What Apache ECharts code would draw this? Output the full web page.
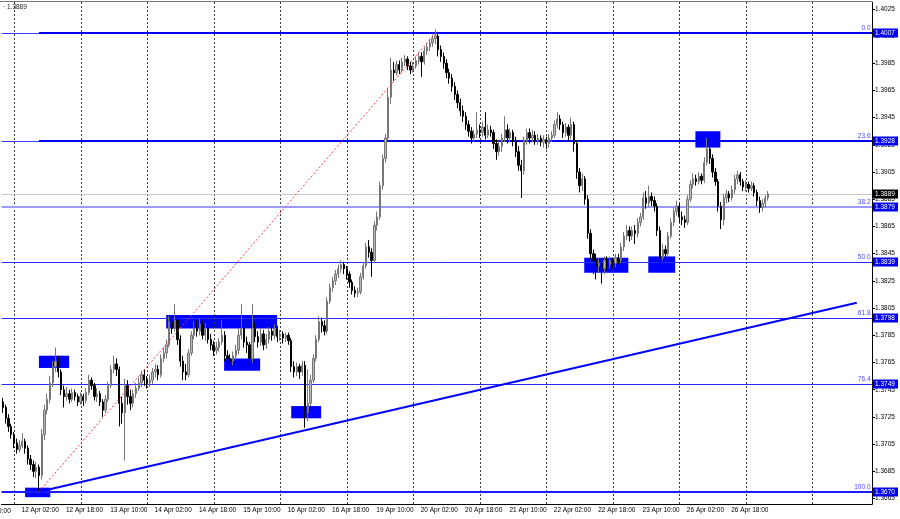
<!DOCTYPE html>
<html><head><meta charset="utf-8">
<script src="https://cdn.jsdelivr.net/npm/echarts@6/dist/echarts.min.js"></script>
<style>html,body{margin:0;padding:0;background:#fff}#c{width:900px;height:519px}</style>
</head><body><div id="c"></div><script>
// ---------- DATA (GBPUSD H1) ----------
const firstOpen = 1.3736;
const closes = [
1.3732,1.3724,1.3718,1.3712,1.3706,1.3701,1.3704,1.3707,1.3702,1.3694,
1.3690,1.3685,1.3688,1.3682,1.3712,1.3730,1.3738,1.3750,1.3762,1.3766,
1.3758,1.3745,1.3740,1.3742,1.3738,1.3743,1.3740,1.3736,1.3740,1.3737,
1.3743,1.3752,1.3748,1.3740,1.3742,1.3736,1.3730,1.3738,1.3748,1.3760,
1.3764,1.3760,1.3735,1.3728,1.3748,1.3740,1.3735,1.3742,1.3746,1.3750,
1.3756,1.3752,1.3750,1.3752,1.3758,1.3760,1.3756,1.3768,1.3772,1.3778,
1.3795,1.3790,1.3796,1.3782,1.3766,1.3758,1.3756,1.3772,1.3785,1.3790,
1.3788,1.3793,1.3785,1.3790,1.3782,1.3778,1.3774,1.3776,1.3780,1.3785,
1.3770,1.3768,1.3766,1.3770,1.3774,1.3785,1.3790,1.3780,1.3778,1.3768,
1.3790,1.3784,1.3780,1.3786,1.3778,1.3782,1.3788,1.3785,1.3790,1.3784,
1.3786,1.3783,1.3785,1.3781,1.3762,1.3758,1.3762,1.3758,1.3763,1.3728,
1.3735,1.3752,1.3768,1.3782,1.3795,1.3792,1.3788,1.3810,1.3820,1.3825,
1.3830,1.3834,1.3837,1.3834,1.3830,1.3824,1.3818,1.3816,1.3817,1.3828,
1.3836,1.3850,1.3846,1.3840,1.3866,1.3872,1.3895,1.3915,1.3930,1.3960,
1.3980,1.3978,1.3984,1.3980,1.3986,1.3988,1.3983,1.3980,1.3983,1.3987,
1.3990,1.3986,1.3994,1.3997,1.4000,1.4003,1.4005,1.3995,1.3990,1.3985,
1.3978,1.3974,1.3968,1.3962,1.3956,1.3950,1.3946,1.3940,1.3935,1.3930,
1.3933,1.3936,1.3934,1.3938,1.3932,1.3936,1.3934,1.3926,1.3920,1.3924,
1.3930,1.3936,1.3930,1.3934,1.3928,1.3920,1.3910,1.3906,1.3928,1.3934,
1.3930,1.3932,1.3928,1.3930,1.3927,1.3929,1.3926,1.3930,1.3932,1.3940,
1.3944,1.3940,1.3934,1.3938,1.3932,1.3940,1.3926,1.3905,1.3895,1.3900,
1.3885,1.3860,1.3845,1.3840,1.3836,1.3838,1.3834,1.3840,1.3837,1.3840,
1.3838,1.3842,1.3840,1.3850,1.3858,1.3862,1.3858,1.3862,1.3860,1.3868,
1.3872,1.3886,1.3882,1.3887,1.3884,1.3880,1.3862,1.3842,1.3848,1.3845,
1.3858,1.3868,1.3876,1.3880,1.3872,1.3870,1.3868,1.3885,1.3896,1.3900,
1.3898,1.3902,1.3899,1.3912,1.3922,1.3915,1.3905,1.3898,1.3880,1.3870,
1.3886,1.3889,1.3886,1.3892,1.3900,1.3903,1.3898,1.3894,1.3896,1.3893,
1.3895,1.3890,1.3884,1.3879,1.3882,1.3886,1.3889];
const highs = [
1.3739,1.3734,1.3727,1.3720,1.3714,1.3709,1.3708,1.3713,1.3709,1.3704,
1.3697,1.3693,1.3692,1.3690,1.3716,1.3734,1.3742,1.3755,1.3766,1.3776,
1.3770,1.3760,1.3748,1.3747,1.3745,1.3746,1.3745,1.3742,1.3743,1.3742,
1.3746,1.3756,1.3754,1.3750,1.3746,1.3744,1.3738,1.3741,1.3751,1.3763,
1.3770,1.3768,1.3762,1.3740,1.3753,1.3752,1.3745,1.3745,1.3750,1.3754,
1.3759,1.3760,1.3755,1.3756,1.3761,1.3764,1.3763,1.3771,1.3776,1.3782,
1.3799,1.3800,1.3808,1.3798,1.3785,1.3770,1.3764,1.3775,1.3788,1.3795,
1.3796,1.3797,1.3796,1.3794,1.3792,1.3786,1.3781,1.3780,1.3783,1.3796,
1.3788,1.3774,1.3771,1.3773,1.3778,1.3790,1.3808,1.3793,1.3784,1.3780,
1.3808,1.3794,1.3788,1.3790,1.3789,1.3786,1.3791,1.3792,1.3793,1.3792,
1.3789,1.3788,1.3787,1.3787,1.3783,1.3766,1.3765,1.3764,1.3766,1.3766,
1.3760,1.3756,1.3771,1.3785,1.3799,1.3798,1.3796,1.3813,1.3823,1.3828,
1.3833,1.3837,1.3840,1.3839,1.3836,1.3832,1.3826,1.3821,1.3820,1.3831,
1.3839,1.3853,1.3855,1.3849,1.3869,1.3876,1.3898,1.3918,1.3933,1.3967,
1.3989,1.3986,1.3987,1.3987,1.3989,1.3991,1.3990,1.3986,1.3986,1.3990,
1.3993,1.3993,1.3997,1.4000,1.4003,1.4006,1.4010,1.4008,1.3998,1.3993,
1.3988,1.3981,1.3977,1.3971,1.3965,1.3959,1.3954,1.3949,1.3943,1.3938,
1.3936,1.3949,1.3940,1.3942,1.3949,1.3940,1.3939,1.3936,1.3929,1.3928,
1.3933,1.3946,1.3940,1.3937,1.3936,1.3931,1.3924,1.3914,1.3931,1.3937,
1.3937,1.3936,1.3935,1.3933,1.3932,1.3932,1.3931,1.3933,1.3935,1.3943,
1.3949,1.3947,1.3942,1.3941,1.3940,1.3945,1.3942,1.3928,1.3908,1.3904,
1.3902,1.3888,1.3863,1.3848,1.3845,1.3842,1.3841,1.3843,1.3843,1.3843,
1.3842,1.3845,1.3845,1.3853,1.3861,1.3866,1.3865,1.3865,1.3866,1.3871,
1.3875,1.3890,1.3891,1.3895,1.3890,1.3887,1.3882,1.3865,1.3852,1.3851,
1.3861,1.3871,1.3879,1.3884,1.3882,1.3876,1.3873,1.3888,1.3899,1.3904,
1.3903,1.3905,1.3904,1.3916,1.3930,1.3928,1.3918,1.3908,1.3900,1.3883,
1.3889,1.3892,1.3891,1.3895,1.3903,1.3906,1.3905,1.3900,1.3899,1.3898,
1.3898,1.3897,1.3892,1.3887,1.3885,1.3888,1.3891];
const lows = [
1.3728,1.3720,1.3714,1.3709,1.3702,1.3698,1.3699,1.3702,1.3698,1.3690,
1.3686,1.3681,1.3680,1.3670,1.3679,1.3708,1.3727,1.3735,1.3747,1.3758,
1.3754,1.3741,1.3732,1.3737,1.3735,1.3736,1.3737,1.3733,1.3734,1.3733,
1.3735,1.3741,1.3745,1.3737,1.3736,1.3733,1.3725,1.3728,1.3736,1.3746,
1.3757,1.3755,1.3718,1.3720,1.3693,1.3734,1.3730,1.3732,1.3739,1.3744,
1.3747,1.3748,1.3746,1.3747,1.3749,1.3754,1.3752,1.3754,1.3765,1.3768,
1.3776,1.3786,1.3788,1.3778,1.3762,1.3752,1.3752,1.3754,1.3770,1.3782,
1.3784,1.3785,1.3782,1.3781,1.3779,1.3774,1.3770,1.3771,1.3773,1.3778,
1.3766,1.3764,1.3762,1.3763,1.3767,1.3771,1.3782,1.3776,1.3772,1.3762,
1.3765,1.3780,1.3776,1.3777,1.3774,1.3775,1.3779,1.3781,1.3782,1.3780,
1.3781,1.3779,1.3780,1.3778,1.3758,1.3754,1.3755,1.3753,1.3755,1.3717,
1.3722,1.3733,1.3750,1.3766,1.3780,1.3787,1.3785,1.3786,1.3808,1.3817,
1.3822,1.3827,1.3831,1.3830,1.3826,1.3820,1.3815,1.3813,1.3813,1.3815,
1.3826,1.3834,1.3842,1.3828,1.3838,1.3862,1.3870,1.3892,1.3912,1.3928,
1.3955,1.3972,1.3976,1.3977,1.3978,1.3983,1.3980,1.3977,1.3978,1.3981,
1.3984,1.3975,1.3984,1.3991,1.3994,1.3997,1.3999,1.3990,1.3986,1.3981,
1.3974,1.3970,1.3964,1.3958,1.3952,1.3946,1.3942,1.3936,1.3931,1.3926,
1.3927,1.3930,1.3930,1.3931,1.3929,1.3930,1.3931,1.3922,1.3914,1.3917,
1.3920,1.3927,1.3926,1.3927,1.3924,1.3916,1.3906,1.3886,1.3903,1.3925,
1.3926,1.3927,1.3925,1.3925,1.3924,1.3923,1.3922,1.3923,1.3927,1.3930,
1.3937,1.3936,1.3930,1.3931,1.3928,1.3929,1.3920,1.3900,1.3890,1.3891,
1.3881,1.3856,1.3841,1.3830,1.3826,1.3831,1.3823,1.3830,1.3833,1.3834,
1.3834,1.3835,1.3837,1.3838,1.3847,1.3855,1.3854,1.3855,1.3852,1.3857,
1.3865,1.3870,1.3878,1.3879,1.3880,1.3876,1.3858,1.3838,1.3840,1.3841,
1.3843,1.3856,1.3865,1.3873,1.3868,1.3866,1.3864,1.3866,1.3883,1.3893,
1.3895,1.3896,1.3896,1.3897,1.3910,1.3911,1.3901,1.3895,1.3876,1.3863,
1.3866,1.3882,1.3883,1.3884,1.3889,1.3896,1.3895,1.3891,1.3891,1.3890,
1.3891,1.3887,1.3880,1.3875,1.3876,1.3879,1.3884];
const totalSlots = 314;                 // bar slots incl. empty right shift
const tickLabels = ['12 Apr 02:00','12 Apr 18:00','13 Apr 10:00','14 Apr 02:00','14 Apr 18:00',
  '15 Apr 10:00','16 Apr 02:00','16 Apr 18:00','19 Apr 10:00','20 Apr 02:00','20 Apr 18:00',
  '21 Apr 10:00','22 Apr 02:00','22 Apr 18:00','23 Apr 10:00','26 Apr 02:00','26 Apr 18:00'];
const tickStart = 6, tickStep = 16;
const hiddenLeftLabel = ['9 Apr 10:00', -10];
const dayStarts = [4,28,52,76,100,124,148,172,196,220,244,268,292];
const yTicks = [1.3665,1.3685,1.3705,1.3725,1.3745,1.3765,1.3785,1.3805,1.3825,1.3845,
  1.3865,1.3885,1.3905,1.3925,1.3945,1.3965,1.3985,1.4005,1.4025];
const yMin = 1.3661, yMax = 1.4030;
const fibLevels = [1.4007,1.3928,1.3879,1.3839,1.3798,1.3749,1.3670];
const fibNames = ['0.0','23.6','38.2','50.0','61.8','76.4','100.0'];
const lastPrice = 1.3889;
// highlighted zones: [fromBar, toBar, priceTop, priceBottom]
const zones = [[8.0,17.1,1.3673,1.3666],[13.0,23.9,1.3770,1.3761],[58.9,98.9,1.3800,1.3790],
  [79.8,92.8,1.3768,1.3759],[104.0,114.8,1.3733,1.3724],[209.7,225.6,1.3842,1.3831],
  [232.8,242.5,1.3843,1.3831],[249.8,258.8,1.3935,1.3923]];
const trendLine = [[13,1.3670],[308,1.3809]];
const fibBase = [[13,1.3670],[156,1.4007]];
const fibAnchor = 13;

// ---------- STYLES ----------
const BLUE = '#0000f0';
const fibStyles = [
  {full:{c:'#3a3aff',w:1}, part:{c:BLUE,w:2}},
  {full:{c:'#3a3aff',w:1}, part:{c:BLUE,w:2}},
  {full:{c:'#9a9aff',w:2}},
  {full:{c:'#2a2aff',w:1}},
  {full:{c:'#2a2aff',w:1}},
  {full:{c:'#2a2aff',w:1}},
  {full:{c:'#1a1aff',w:2}}
];

// ---------- BUILD ----------
const cats = Array.from({length: totalSlots}, (_, i) => String(i));
const candles = closes.map((c, i) => [i === 0 ? firstOpen : closes[i-1], c, lows[i], highs[i]]);
const isTick = i => i >= tickStart && (i - tickStart) % tickStep === 0 && (i - tickStart) / tickStep < tickLabels.length;

const segs = []; // [x0,p0,x1,p1,color,width,dash]
dayStarts.forEach(d => segs.push([d, yMin, d, yMax, '#3a3a3a', 1, [2,2]]));
segs.push([-0.5, lastPrice, totalSlots-0.5, lastPrice, '#c8c8c8', 1, null]);
fibLevels.forEach((p, k) => {
  const s = fibStyles[k];
  segs.push([-0.5, p, totalSlots-0.5, p, s.full.c, s.full.w, null]);
  if (s.part) segs.push([fibAnchor, p, totalSlots-0.5, p, s.part.c, s.part.w, null]);
});

function segRender(params, api) {
  const s = segs[params.dataIndex];
  const a = api.coord([s[0], s[1]]);
  const b = api.coord([s[2], s[3]]);
  const w = s[5];
  const adj = v => (w % 2 === 1 ? Math.round(v) + 0.5 : Math.round(v));
  let x1 = a[0], y1 = a[1], x2 = b[0], y2 = b[1];
  if (s[1] === s[3]) { y1 = y2 = adj(y1); } else if (s[0] === s[2]) { x1 = x2 = adj(x1); }
  return {type:'line', shape:{x1,y1,x2,y2},
    style:{stroke: s[4], lineWidth: w, lineDash: s[6]}};
}
function zoneRender(params, api) {
  const z = zones[params.dataIndex];
  const a = api.coord([z[0], z[2]]);
  const b = api.coord([z[1], z[3]]);
  return {type:'rect', shape:{x:a[0], y:a[1], width:b[0]-a[0], height:b[1]-a[1]},
    style:{fill:'#0000ff'}};
}

const chart = echarts.init(document.getElementById('c'), null, {renderer:'canvas'});
const FONT = 'Liberation Sans';
chart.setOption({
  animation:false,
  backgroundColor:'#ffffff',
  grid:{left:1.5, right:28, top:2, bottom:15},
  xAxis:[{
    type:'category', data:cats, boundaryGap:true,
    axisLine:{onZero:false, lineStyle:{color:'#000', width:1}},
    axisTick:{alignWithLabel:true, interval:(i)=>isTick(i), length:3, lineStyle:{color:'#000'}},
    axisLabel:{interval:(i)=>isTick(i), formatter:(v,i)=>tickLabels[(i-tickStart)/tickStep],
      align:'left', fontSize:6.5, fontFamily:FONT, color:'#000', margin:3, padding:[0,0,0,2]},
    splitLine:{show:false}
  },{
    type:'value', min:-0.5, max:totalSlots-0.5, show:false, splitLine:{show:false}
  }],
  yAxis:{
    type:'value', position:'right', min:yMin, max:yMax,
    axisLine:{show:true, onZero:false, lineStyle:{color:'#000', width:1}},
    axisTick:{show:true, customValues:yTicks, length:3, lineStyle:{color:'#000'}},
    axisLabel:{customValues:yTicks, formatter:v=>v.toFixed(4), fontSize:6.5, fontFamily:FONT,
      color:'#000', margin:3},
    splitLine:{show:false}
  },
  series:[
    {type:'custom', name:'zones', xAxisIndex:1, yAxisIndex:0, z:2, silent:true,
     data:zones.map(z=>[z[0],z[2]]), renderItem:zoneRender},
    {type:'custom', name:'levels', xAxisIndex:1, yAxisIndex:0, z:3, silent:true, clip:true,
     data:segs.map(s=>[s[0],s[1]]), renderItem:segRender},
    {type:'candlestick', name:'GBPUSD', xAxisIndex:0, yAxisIndex:0, z:4,
     data:candles, barWidth:1.8,
     itemStyle:{color:'#b8b8b8', color0:'#000000', borderColor:'#767676', borderColor0:'#000000', borderWidth:1}},
    {type:'line', name:'trend', xAxisIndex:1, yAxisIndex:0, z:5, data:trendLine,
     symbol:'none', lineStyle:{color:'#0000ff', width:2}, silent:true},
    {type:'line', name:'fibBase', xAxisIndex:1, yAxisIndex:0, z:5, data:fibBase,
     symbol:'none', lineStyle:{color:'#ff3c3c', width:1, type:[2,2]}, silent:true}
  ]
});

const yPix = p => chart.convertToPixel({yAxisIndex:0}, p);
const elements = [];
elements.push({type:'line', shape:{x1:0, y1:1.5, x2:872, y2:1.5}, style:{stroke:'#777', lineWidth:1}, z:100});
fibLevels.forEach((p, k) => {
  const y = Math.round(yPix(p));
  elements.push({type:'rect', shape:{x:873, y:y-4.5, width:25, height:9}, style:{fill:BLUE}, z:100});
  elements.push({type:'text', x:875, y:y, style:{text:p.toFixed(4), fill:'#fff', fontSize:6.5,
    fontFamily:FONT, verticalAlign:'middle'}, z:101});
  elements.push({type:'text', x:870.5, y:y-1, style:{text:fibNames[k], fill:'#4a4aff', fontSize:6.5,
    fontFamily:FONT, align:'right', verticalAlign:'bottom'}, z:101});
});
{
  const y = Math.round(yPix(lastPrice));
  elements.push({type:'rect', shape:{x:873, y:y-4.5, width:25, height:9}, style:{fill:'#000'}, z:100});
  elements.push({type:'text', x:875, y:y, style:{text:lastPrice.toFixed(4), fill:'#fff', fontSize:6.5,
    fontFamily:FONT, verticalAlign:'middle'}, z:101});
  elements.push({type:'text', x:3, y:7, style:{text:'\u00b7 ' + lastPrice.toFixed(4), fill:'#222', fontSize:6.5,
    fontFamily:FONT, verticalAlign:'middle'}, z:101});
}
{
  const x = chart.convertToPixel({xAxisIndex:1}, hiddenLeftLabel[1]);
  elements.push({type:'text', x:x+2, y:511, style:{text:hiddenLeftLabel[0], fill:'#000', fontSize:6.5,
    fontFamily:FONT, verticalAlign:'middle'}, z:101});
}
chart.setOption({graphic:{elements}});
</script></body></html>
